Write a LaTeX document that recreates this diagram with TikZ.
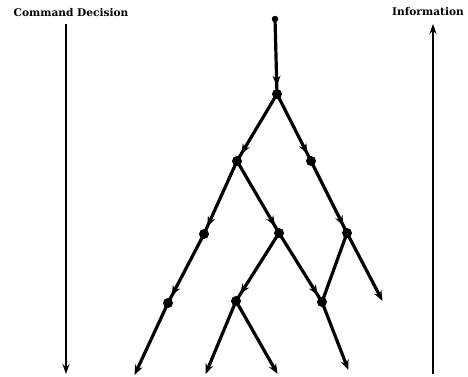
\documentclass[tikz,border=0pt]{standalone}
\usepackage{fontspec}
\setmainfont{DejaVu Serif}
\usetikzlibrary{arrows.meta,decorations.markings}
\begin{document}
\begin{tikzpicture}[x=1pt,y=-1pt,
  dot/.style={circle,fill=black,inner sep=0pt,minimum size=10pt},
  topdot/.style={circle,fill=black,inner sep=0pt,minimum size=6.5pt},
  edge/.style={line width=3.2pt,shorten <=-1pt,shorten >=-1pt},
  tipped/.style={edge,-{Stealth[length=10pt,width=8pt]}},
  sideline/.style={line width=2.5pt,-{Stealth[length=10pt,width=7pt]}},
  midtip/.style={edge,postaction={decorate},decoration={markings,
     mark=at position -3pt with {\arrow{Stealth[length=10pt,width=8pt]}}}},
  lbl/.style={font=\bfseries\fontsize{10.6}{12}\selectfont,inner sep=0pt}]
\useasboundingbox (0,0) rectangle (468,376);
% labels and side arrows
\node[lbl] (cd) at (71,13) {Command Decision};
\node[lbl] (inf) at (428,12) {Information};
\coordinate (l1) at (66,24);
\coordinate (l2) at (66,374);
\coordinate (r1) at (433,374);
\coordinate (r2) at (433,24);
\draw[sideline] (l1) -- (l2);
\draw[sideline] (r1) -- (r2);
% tree nodes
\node[topdot] (T) at (275,19) {};
\node[dot] (A) at (277,94) {};
\node[dot] (B) at (237,161) {};
\node[dot] (C) at (311,161) {};
\node[dot] (D) at (204,234) {};
\node[dot] (E) at (279,233) {};
\node[dot] (F) at (347,233) {};
\node[dot] (G) at (168,303) {};
\node[dot] (H) at (236,301) {};
\node[dot] (I) at (322,302) {};
\coordinate (e1) at (135,374);
\coordinate (e2) at (206,373);
\coordinate (e3) at (277,373);
\coordinate (e4) at (348,369);
\coordinate (e5) at (382,300);
% edges
\draw[midtip] (T) -- (A);
\draw[midtip] (A) -- (B);
\draw[midtip] (A) -- (C);
\draw[midtip] (B) -- (D);
\draw[midtip] (B) -- (E);
\draw[midtip] (C) -- (F);
\draw[midtip] (D) -- (G);
\draw[midtip] (E) -- (H);
\draw[midtip] (E) -- (I);
\draw[edge] (F) -- (I);
\draw[tipped] (F) -- (e5);
\draw[tipped] (G) -- (e1);
\draw[tipped] (H) -- (e2);
\draw[tipped] (H) -- (e3);
\draw[tipped] (I) -- (e4);
\end{tikzpicture}
\end{document}
